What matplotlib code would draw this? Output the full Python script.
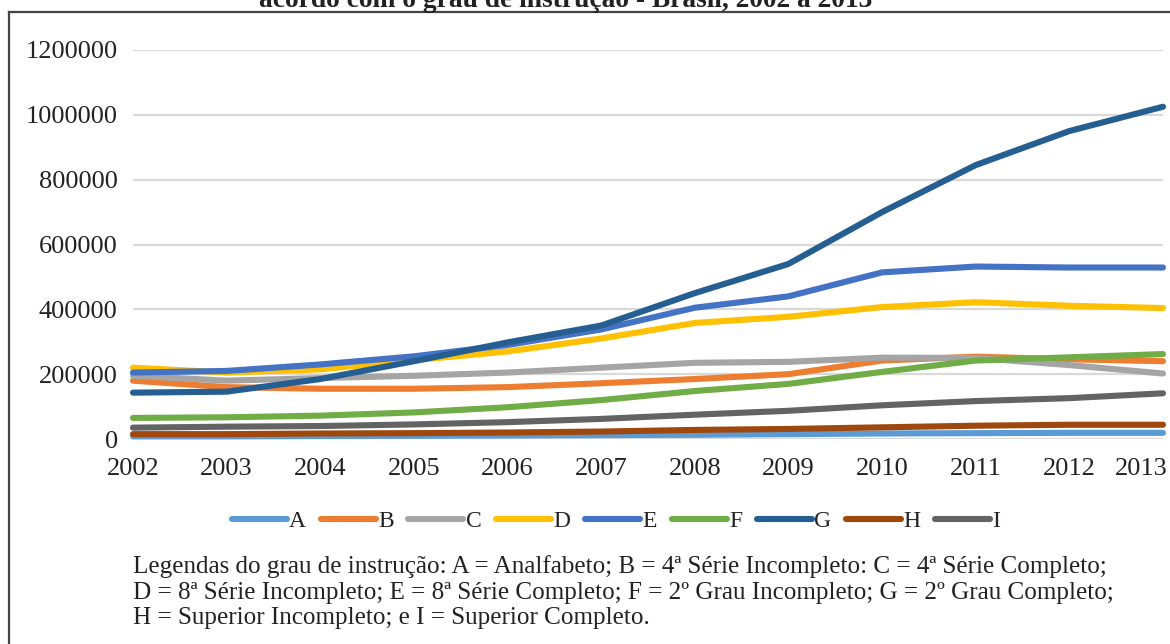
import matplotlib
matplotlib.use("Agg")
import matplotlib.pyplot as plt
from matplotlib.lines import Line2D
from matplotlib.transforms import ScaledTranslation

# years and series
anos = [2002, 2003, 2004, 2005, 2006, 2007, 2008, 2009, 2010, 2011, 2012, 2013]
A = [8000, 8000, 9000, 10000, 11000, 12000, 13000, 15000, 17000, 18000, 19000, 19000]
B = [180000, 160000, 155000, 155000, 160000, 172000, 185000, 200000, 242000, 254000, 246000, 240000]
C = [195000, 180000, 188000, 195000, 205000, 220000, 235000, 238000, 251000, 250000, 228000, 202000]
D = [220000, 205000, 215000, 243000, 270000, 310000, 358000, 377000, 407000, 422000, 411000, 404000]
E = [205000, 210000, 230000, 255000, 290000, 338000, 405000, 440000, 514000, 532000, 529000, 529000]
F = [65000, 67000, 72000, 82000, 98000, 120000, 148000, 170000, 207000, 242000, 252000, 262000]
G = [143000, 146000, 185000, 240000, 298000, 350000, 450000, 540000, 700000, 845000, 950000, 1025000]
H = [15000, 15000, 17000, 18000, 20000, 23000, 28000, 31000, 36000, 41000, 44000, 44000]
I = [35000, 38000, 40000, 45000, 52000, 62000, 75000, 87000, 104000, 117000, 126000, 141000]

nomes = ["A", "B", "C", "D", "E", "F", "G", "H", "I"]
series = [A, B, C, D, E, F, G, H, I]
cores = ["#5B9BD5", "#ED7D31", "#A5A5A5", "#FFC000", "#4472C4",
         "#70AD47", "#255E91", "#9E480E", "#636363"]
yticks = [0, 200000, 400000, 600000, 800000, 1000000, 1200000]

legenda = ("Legendas do grau de instrução: A = Analfabeto; B = 4ª Série Incompleto: C = 4ª Série Completo;\n"
           "D = 8ª Série Incompleto; E = 8ª Série Completo; F = 2º Grau Incompleto; G = 2º Grau Completo;\n"
           "H = Superior Incompleto; e I = Superior Completo.")
titulo = "acordo com o grau de instrução - Brasil, 2002 a 2013"

plt.rcParams['font.family'] = ['Liberation Serif', 'DejaVu Serif']

W, Hh = 1170, 644
fig = plt.figure(figsize=(W / 100, Hh / 100), dpi=100)
ax = fig.add_axes([133 / W, 1 - 439 / Hh, (1163 - 133) / W, (439 - 50) / Hh])

for nome, s, c in zip(nomes, series, cores):
    ax.plot(anos, s, color=c, lw=4.4, label=nome, solid_capstyle='round',
            solid_joinstyle='round', clip_on=False)

ax.set_xlim(2002, 2013)
ax.set_ylim(0, 1200000)
ax.set_xticks(anos)
ax.set_yticks(yticks)
ax.set_yticklabels([str(v) for v in yticks])
ax.grid(axis='y', color='#D9D9D9', lw=1.6)
ax.set_axisbelow(True)
for sp in ax.spines.values():
    sp.set_visible(False)
ax.tick_params(axis='both', length=0, labelsize=19, colors='#222222')
ax.tick_params(axis='y', pad=11)
ax.tick_params(axis='x', pad=14)

# last year label pulled inside the figure, like the original
ult = ax.get_xticklabels()[-1]
ult.set_horizontalalignment('right')
ult.set_transform(ult.get_transform() + ScaledTranslation(0.05, 0, fig.dpi_scale_trans))

fig.legend(loc='center', bbox_to_anchor=(616 / W, 1 - 521 / Hh), ncol=9,
           frameon=False, fontsize=17, handlelength=2.33, handletextpad=0.1,
           columnspacing=0.62, labelcolor='#222222')

fig.text(133 / W, 1 - 555 / Hh, legenda, ha='left', va='top', fontsize=18.1,
         color='#222222', linespacing=1.22)

# cut-off title at the top
fig.text(566 / W, 1 - 7 / Hh, titulo, ha='center', va='baseline', fontsize=19.8,
         fontweight='bold', color='#222222')

# frame lines (left and top)
fig.add_artist(Line2D([9 / W, 9 / W], [0, 1 - 12 / Hh], color='#444444', lw=1.6))
fig.add_artist(Line2D([9 / W, 1], [1 - 12 / Hh, 1 - 12 / Hh], color='#444444', lw=1.6))

fig.savefig("out.png", dpi=100, facecolor='white')
